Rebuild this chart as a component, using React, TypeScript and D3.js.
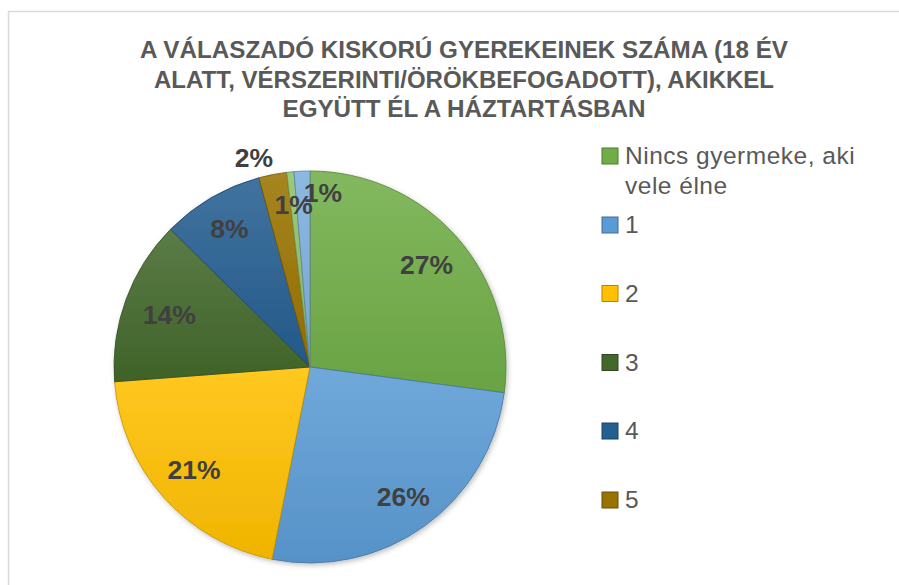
import React, { useEffect, useRef } from 'react';
import * as d3 from 'd3';

const titleLines = [
  'A VÁLASZADÓ KISKORÚ GYEREKEINEK SZÁMA (18 ÉV',
  'ALATT, VÉRSZERINTI/ÖRÖKBEFOGADOTT), AKIKKEL',
  'EGYÜTT ÉL A HÁZTARTÁSBAN',
];
const categories = ['Nincs gyermeke, aki vele élne', '1', '2', '3', '4', '5', '6', '7'];
const shares = [27.1, 26.0, 20.7, 13.6, 8.4, 2.3, 0.6, 1.3];
const colors = ['#70AD47', '#5B9BD5', '#FFC000', '#43682B', '#255E91', '#997300', '#8CC168', '#7CAFDD'];
const legendShown = 6;

const App = () => {
  const svgRef = useRef<SVGSVGElement>(null);

  useEffect(() => {
    const svg = d3.select(svgRef.current);
    svg.selectAll('*').remove();
    const width = 899;
    const height = 585;
    const cx = 310;
    const cy = 367;
    const r = 196;

    svg.append('rect')
      .attr('width', width).attr('height', height).attr('fill', '#fff');
    svg.append('rect')
      .attr('x', 8.5).attr('y', 11.5)
      .attr('width', width + 20).attr('height', height + 20)
      .attr('fill', 'none').attr('stroke', '#d9d9d9').attr('stroke-width', 1.5);

    const defs = svg.append('defs');
    const shadow = defs.append('filter').attr('id', 'shadow')
      .attr('x', '-10%').attr('y', '-10%').attr('width', '120%').attr('height', '120%');
    shadow.append('feDropShadow')
      .attr('dx', 1.5).attr('dy', 2).attr('stdDeviation', 2.5)
      .attr('flood-color', '#000').attr('flood-opacity', 0.25);

    colors.forEach((c, i) => {
      const g = defs.append('linearGradient').attr('id', `grad${i}`)
        .attr('x1', 0).attr('y1', 0).attr('x2', 0).attr('y2', 1);
      g.append('stop').attr('offset', '0%').attr('stop-color', d3.interpolateRgb(c, '#fff')(0.13));
      g.append('stop').attr('offset', '100%').attr('stop-color', d3.interpolateRgb(c, '#000')(0.06));
    });

    // title
    const titleWidths = [648, 620, 363];
    svg.append('g')
      .selectAll('text')
      .data(titleLines)
      .join('text')
        .attr('x', 464)
        .attr('y', (d, i) => 58 + i * 29.5)
        .attr('text-anchor', 'middle')
        .attr('font-family', '"Liberation Sans Narrow", "Liberation Sans", sans-serif')
        .attr('font-weight', 'bold')
        .attr('font-size', 24)
        .attr('fill', '#595959')
        .attr('textLength', (d, i) => titleWidths[i])
        .attr('lengthAdjust', 'spacingAndGlyphs')
        .text(d => d);

    // pie
    const pie = d3.pie<number>().sort(null).value(d => d);
    const arcs = pie(shares);
    const arc = d3.arc<d3.PieArcDatum<number>>().innerRadius(0).outerRadius(r);

    const pieG = svg.append('g')
      .attr('transform', `translate(${cx},${cy})`);
    pieG.append('g')
      .attr('filter', 'url(#shadow)')
      .selectAll('path')
      .data(arcs)
      .join('path')
        .attr('d', arc)
        .attr('fill', (d, i) => `url(#grad${i})`)
        .attr('stroke', (d, i) => d3.color(colors[i])!.darker(0.8).toString())
        .attr('stroke-width', 0.8)
        .attr('stroke-linejoin', 'round');

    // data labels
    const labelRadius = [155, 160, 155, 150, 160, 216, 163, 174];
    const labelNudge = [[0, 0], [0, 0], [0, 0], [0, 0], [0, 0], [-15, 3], [0, 0], [20, 0]];
    pieG.append('g')
      .selectAll('text')
      .data(arcs)
      .join('text')
        .attr('transform', (d, i) => {
          const [x, y] = d3.arc<d3.PieArcDatum<number>>()
            .innerRadius(labelRadius[i]).outerRadius(labelRadius[i]).centroid(d);
          return `translate(${x + labelNudge[i][0]},${y + labelNudge[i][1]})`;
        })
        .attr('text-anchor', 'middle')
        .attr('dominant-baseline', 'central')
        .attr('font-family', '"Liberation Sans", Arial, sans-serif')
        .attr('font-weight', 'bold')
        .attr('font-size', 26.5)
        .attr('fill', '#404040')
        .text(d => `${Math.round(d.data)}%`);

    // legend
    const legendY = [156, 225, 293.5, 362.5, 431, 500];
    const legend = svg.append('g')
      .selectAll('g')
      .data(categories.slice(0, legendShown))
      .join('g')
        .attr('transform', (d, i) => `translate(602,${legendY[i]})`);
    legend.append('rect')
      .attr('x', 0).attr('y', -8).attr('width', 16).attr('height', 16)
      .attr('fill', (d, i) => colors[i])
      .attr('stroke', (d, i) => d3.color(colors[i])!.darker(1).toString())
      .attr('stroke-width', 1);
    const legendText = legend.append('text')
      .attr('x', 23).attr('y', 8)
      .attr('font-family', '"Liberation Sans", Arial, sans-serif')
      .attr('font-size', 24.5)
      .attr('letter-spacing', 0.5)
      .attr('fill', '#595959');
    legendText.each(function (d) {
      const t = d3.select(this);
      const words = d.split(' ');
      let line: string[] = [];
      let tspan = t.append('tspan').attr('x', 23).attr('dy', 0);
      words.forEach(w => {
        line.push(w);
        tspan.text(line.join(' '));
        if ((tspan.node() as SVGTSpanElement).getComputedTextLength() > 250 && line.length > 1) {
          line.pop();
          tspan.text(line.join(' '));
          line = [w];
          tspan = t.append('tspan').attr('x', 23).attr('dy', 30).text(w);
        }
      });
    });
  }, []);

  return (
    <svg
      ref={svgRef}
      width="899"
      height="585"
      style={{ position: 'absolute', left: 0, top: 0 }}
    ></svg>
  );
};

export default App;
